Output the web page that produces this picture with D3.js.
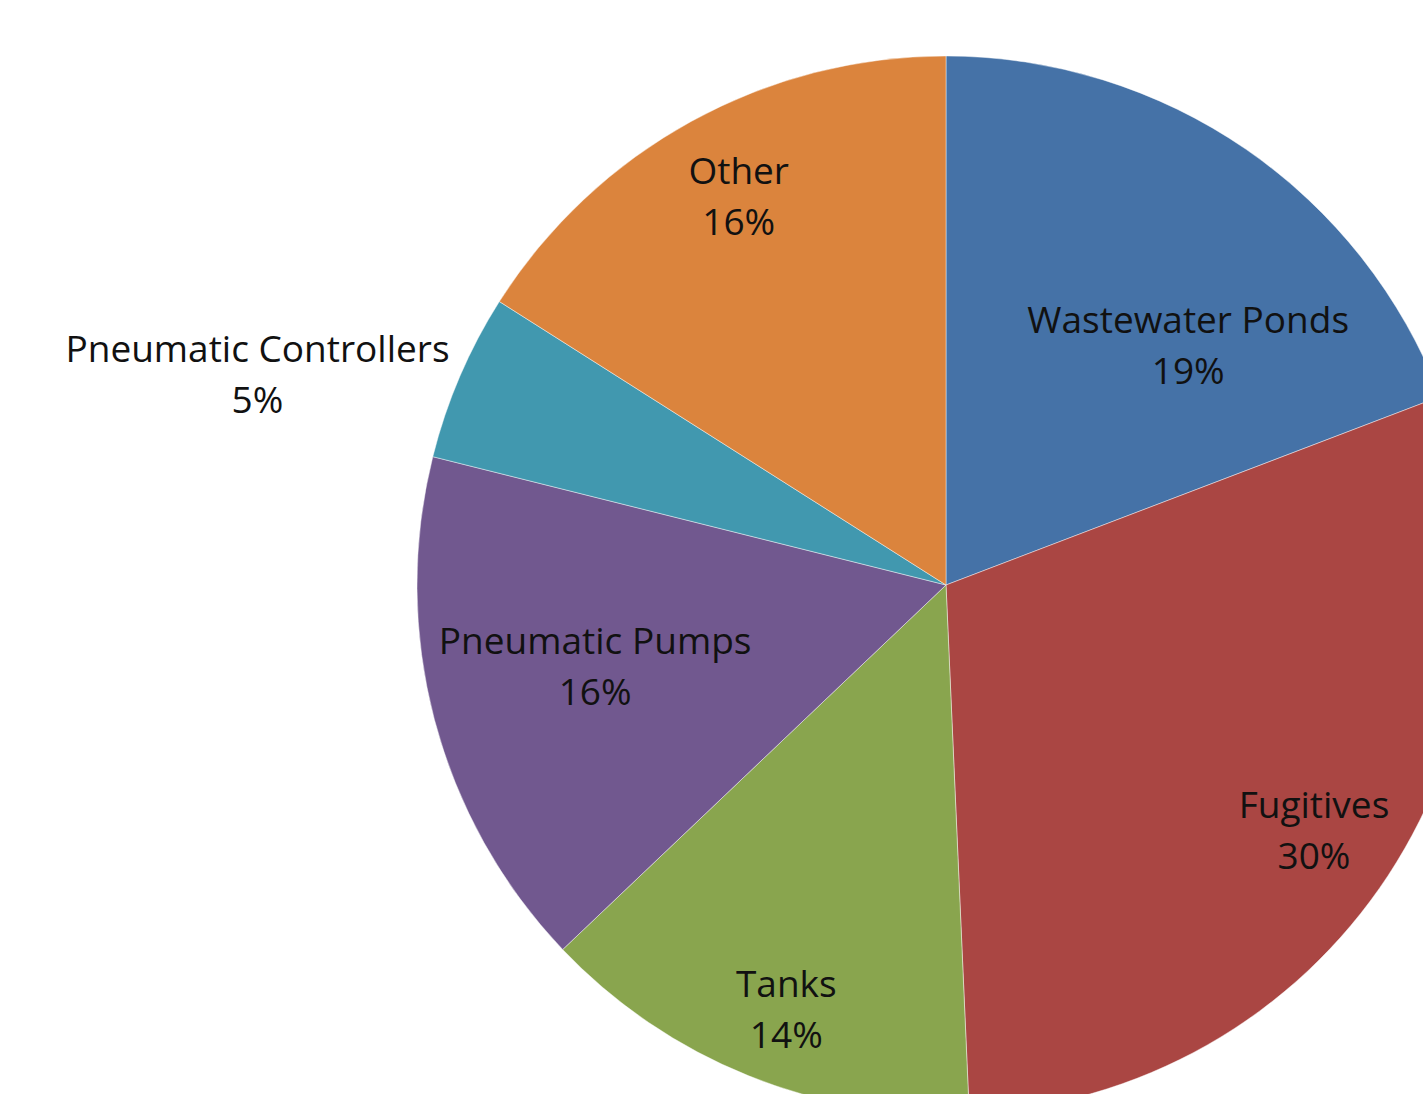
<!DOCTYPE html>
<html>
<head>
<meta charset="utf-8">
<script src="https://cdn.jsdelivr.net/npm/d3@7"></script>
<style>
  html, body { margin: 0; padding: 0; background: #fff; overflow: hidden; }
  svg text { font-family: "Open Sans", Lato, sans-serif; fill: #111; }
</style>
</head>
<body>
<svg id="grafico" width="1423" height="1094"></svg>
<script>
// slices, clockwise from 12 o'clock (shares)
var categorias = ["Wastewater Ponds", "Fugitives", "Tanks", "Pneumatic Pumps", "Pneumatic Controllers", "Other"];
var valores = [19.2, 30.1, 13.6, 16.0, 5.1, 16.0];
var cores = ["#4572A7", "#AA4643", "#89A54E", "#71588F", "#4198AF", "#DB843D"];

var data = categorias.map(function(c, i) { return { grupo: c, dados: valores[i] }; });

var svg = d3.select("#grafico"),
    cx = 946,
    cy = 585,
    radius = 529,
    g = svg.append("g").attr("transform", "translate(" + cx + "," + cy + ")");

var color = d3.scaleOrdinal(categorias, cores);

var pie = d3.pie()
    .sort(null)
    .value(function(d) { return d.dados; });

var path = d3.arc()
    .outerRadius(radius)
    .innerRadius(0);

// where excel put each label (angle in degrees clockwise from top, fraction of radius)
var labelPos = {
  "Wastewater Ponds": [45.4, 0.643],
  "Fugitives": [123.8, 0.837],
  "Tanks": [200.6, 0.858],
  "Pneumatic Pumps": [256.9, 0.681],
  "Pneumatic Controllers": [287.0, 1.361],
  "Other": [331.9, 0.832]
};

var arc = g.selectAll(".arc")
  .data(pie(data))
  .enter().append("g")
  .attr("class", "arc");

arc.append("path")
    .attr("d", path)
    .attr("fill", function(d) { return color(d.data.grupo); })
    .attr("stroke", "rgba(255,255,255,0.55)")
    .attr("stroke-width", 0.8);

var pct = d3.format(".0%");
var total = d3.sum(valores);

var lbl = arc.append("text")
    .attr("text-anchor", "middle")
    .attr("font-size", 37)
    .attr("transform", function(d) {
      var p = labelPos[d.data.grupo];
      var a = p[0] * Math.PI / 180, r = p[1] * radius;
      return "translate(" + (r * Math.sin(a)) + "," + (-r * Math.cos(a)) + ")";
    });

lbl.append("tspan")
    .attr("x", 0)
    .attr("y", -13)
    .text(function(d) { return d.data.grupo; });

lbl.append("tspan")
    .attr("x", 0)
    .attr("y", 38)
    .text(function(d) { return pct(d.data.dados / total); });
</script>
</body>
</html>
